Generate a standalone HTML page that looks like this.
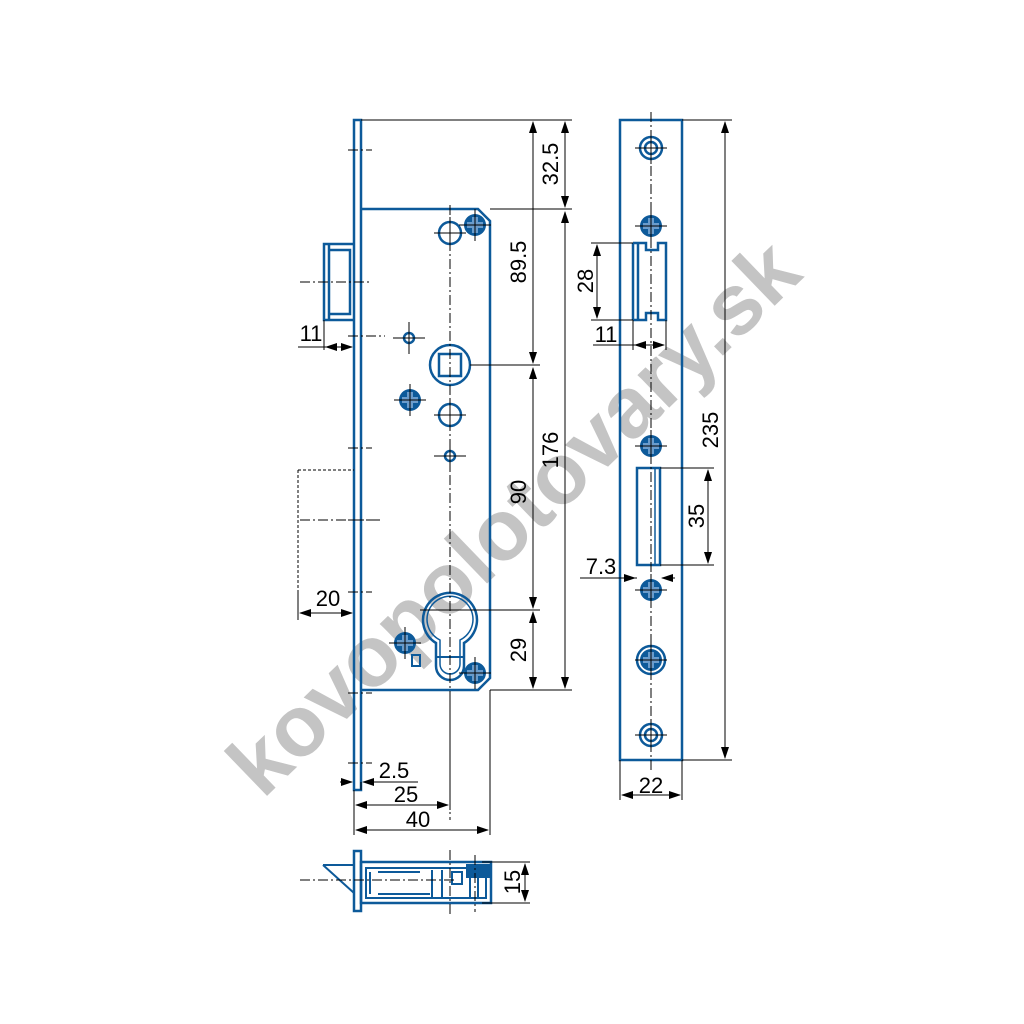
<!DOCTYPE html>
<html><head><meta charset="utf-8"><style>html,body{margin:0;padding:0;background:#fff}svg{display:block}</style></head>
<body>
<svg width="1024" height="1024" viewBox="0 0 1024 1024" xmlns="http://www.w3.org/2000/svg" font-family="Liberation Sans, sans-serif">
<defs>
<marker id="a" markerWidth="12" markerHeight="8" refX="11" refY="4" orient="auto-start-reverse" markerUnits="userSpaceOnUse"><path d="M0,0 L12,4 L0,8 Z" fill="#000"/></marker>
<g id="scr"><circle r="11" fill="#0d5a9a"/><path d="M-3,-8h6v5h5v6h-5v5h-6v-5h-5v-6h5z" fill="#6a9ccc"/><path d="M-16,0h32M0,-16v32" stroke="#000" stroke-width="1"/></g>
<g id="cr"><path d="M-16,0h32M0,-16v32" stroke="#000" stroke-width="1"/></g>
</defs>
<text x="0" y="0" transform="translate(518,522) rotate(-44)" text-anchor="middle" font-size="86" font-weight="bold" fill="#c4c4c4" dominant-baseline="middle">kovopolotovary.sk</text>

<g fill="none" stroke="#0d5a9a" stroke-width="2.5">
<rect x="354" y="120" width="7" height="670"/>
<path d="M361,209 H478 L490,221 V678 L478,690 H361"/>
<path d="M354,244 H324 V320 H354 M329,244 V320 M329,250 H350 V314 H329"/>
<circle cx="450" cy="233" r="11"/>
<circle cx="409" cy="338" r="5"/>
<circle cx="450" cy="365" r="20"/>
<rect x="439" y="354" width="22" height="22"/>
<circle cx="450" cy="415" r="11"/>
<circle cx="450" cy="456" r="5"/>
<path d="M436,643 A27,27 0 1 1 464,643 L464,666 A14,14 0 0 1 436,666 Z"/>
<path d="M440,640 A23,23 0 1 1 460,640 L460,664 A10,10 0 0 1 440,664 Z" stroke-width="1.5"/>
<path d="M436,657 H464" stroke-width="2"/>
<rect x="412" y="655" width="8" height="11" stroke-width="2"/>
<rect x="620" y="120" width="62" height="640"/>
<path d="M633,243 V320 M638,243 V320 M633,243 H646 V250 H658 V243 H666 V320 H658 V313 H646 V320 H633"/>
<rect x="637" y="468" width="23" height="97"/>
<path d="M655,468 V565" stroke-width="1.5"/>
<circle cx="651" cy="148" r="11"/><circle cx="651" cy="148" r="6"/>
<circle cx="651" cy="735" r="11"/><circle cx="651" cy="735" r="6"/>
<circle cx="651" cy="660" r="14"/>
<rect x="354" y="851" width="7" height="60"/>
<rect x="361" y="862" width="130" height="41"/>
<path d="M323,865 H354 M323,865 L354,893" stroke-width="2"/>
<path d="M366,868 H486 V898 H366 Z M370,872 V894 M378,872 H420 M378,894 H430 M432,870 V898 M442,870 V898 M452,872 H462 V884 H452 Z M470,872 V898 M478,872 V898" stroke-width="2"/>
</g>
<rect x="466" y="864" width="24" height="14" fill="#0d5a9a"/>
<use href="#scr" x="475" y="225"/>
<use href="#scr" x="410" y="400"/>
<use href="#scr" x="405" y="643"/>
<use href="#scr" x="475" y="673"/>
<use href="#scr" x="651" y="226"/>
<use href="#scr" x="651" y="446"/>
<use href="#scr" x="651" y="590"/>
<use href="#scr" x="651" y="660"/>
<use href="#cr" x="409" y="338"/><use href="#cr" x="450" y="456"/><use href="#cr" x="450" y="233"/><use href="#cr" x="450" y="415"/>
<use href="#cr" x="651" y="148"/><use href="#cr" x="651" y="735"/>

<g stroke="#000" stroke-width="1" fill="none">
<path d="M450,205 V820 M651,112 V770 M300,520 H380 M300,282 H370 M450,850 V915 M475,855 V912 M300,880 H455" stroke-dasharray="10,3,2,3"/>
<path d="M348,150 H372 M348,336 H385 M348,448 H372 M348,520 H372 M348,592 H372 M348,693 H372 M348,763 H372" stroke-dasharray="10,3,2,3"/>
<path d="M298,470 H354 M298,470 V590" stroke-dasharray="3,2"/>
<path d="M361,120 H572 M490,209 H572 M470,365 H540 M420,610 H540 M490,690 H572"/>
<path d="M354,790 V835 M361,790 V782 M450,700 V810 M490,690 V835 M298,590 V620 M324,320 V350"/>
<path d="M682,120 H732 M682,760 H732 M591,243 H633 M591,320 H633 M620,760 V800 M682,760 V800 M660,468 H714 M660,565 H714 M633,320 V350 M666,320 V350 M580,578 H637"/>
<path d="M482,862 H530 M482,903 H530"/>
<path d="M565,122 V207" marker-start="url(#a)" marker-end="url(#a)"/>
<path d="M533,122 V363" marker-start="url(#a)" marker-end="url(#a)"/>
<path d="M565,212 V688" marker-start="url(#a)" marker-end="url(#a)"/>
<path d="M533,368 V608" marker-start="url(#a)" marker-end="url(#a)"/>
<path d="M533,612 V688" marker-start="url(#a)" marker-end="url(#a)"/>
<path d="M326,347 H352" marker-start="url(#a)" marker-end="url(#a)"/>
<path d="M298,347 H326"/>
<path d="M300,613 H352" marker-start="url(#a)" marker-end="url(#a)"/>
<path d="M340,782 H352" marker-end="url(#a)"/><path d="M375,782 H363" marker-end="url(#a)"/><path d="M363,782 H418"/>
<path d="M356,805 H448" marker-start="url(#a)" marker-end="url(#a)"/>
<path d="M356,830 H488" marker-start="url(#a)" marker-end="url(#a)"/>
<path d="M725,122 V758" marker-start="url(#a)" marker-end="url(#a)"/>
<path d="M597,245 V318" marker-start="url(#a)" marker-end="url(#a)"/>
<path d="M635,345 H664" marker-start="url(#a)" marker-end="url(#a)"/><path d="M593,345 H635"/>
<path d="M708,470 V563" marker-start="url(#a)" marker-end="url(#a)"/>
<path d="M620,578 H635" marker-end="url(#a)"/><path d="M675,578 H662" marker-end="url(#a)"/>
<path d="M622,795 H680" marker-start="url(#a)" marker-end="url(#a)"/>
<path d="M525,864 V901" marker-start="url(#a)" marker-end="url(#a)"/>
</g>

<g font-size="22" fill="#000">
<text transform="translate(558,164) rotate(-90)" text-anchor="middle">32.5</text>
<text transform="translate(526,262) rotate(-90)" text-anchor="middle">89.5</text>
<text transform="translate(558,450) rotate(-90)" text-anchor="middle">176</text>
<text transform="translate(526,492) rotate(-90)" text-anchor="middle">90</text>
<text transform="translate(526,650) rotate(-90)" text-anchor="middle">29</text>
<text transform="translate(718,430) rotate(-90)" text-anchor="middle">235</text>
<text transform="translate(593,281) rotate(-90)" text-anchor="middle">28</text>
<text transform="translate(704,516) rotate(-90)" text-anchor="middle">35</text>
<text transform="translate(520,882) rotate(-90)" text-anchor="middle">15</text>
<text x="311" y="341" text-anchor="middle">11</text>
<text x="328" y="606" text-anchor="middle">20</text>
<text x="394" y="778" text-anchor="middle">2.5</text>
<text x="406" y="802" text-anchor="middle">25</text>
<text x="418" y="827" text-anchor="middle">40</text>
<text x="606" y="342" text-anchor="middle">11</text>
<text x="601" y="574" text-anchor="middle">7.3</text>
<text x="651" y="793" text-anchor="middle">22</text>
</g>
</svg>
</body></html>
